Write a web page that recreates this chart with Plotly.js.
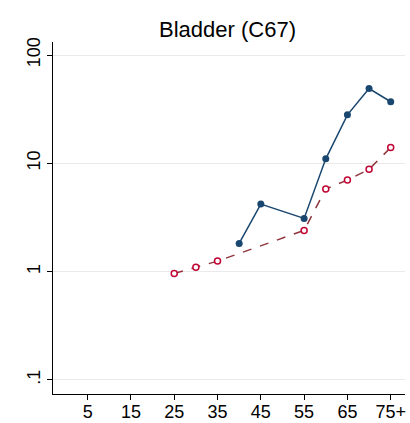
<!DOCTYPE html>
<html>
<head>
<script src="https://cdn.plot.ly/plotly-3.0.1.min.js"></script>
<style>body{margin:0}</style>
</head>
<body>
<div id="chart" style="width:410px;height:423px"></div>
<script>
// age group midpoints (75 = 75+)
const agesBlue = [40, 45, 55, 60, 65, 70, 75];
const ratesBlue = [1.82, 4.2, 3.1, 11, 28, 49, 37];
const agesRed = [25, 30, 35, 55, 60, 65, 70, 75];
const ratesRed = [0.96, 1.1, 1.25, 2.4, 5.8, 7, 8.8, 14];
const tickVals = [5, 15, 25, 35, 45, 55, 65, 75];
const tickText = ['5', '15', '25', '35', '45', '55', '65', '75+'];

const traces = [
    {
        x: agesBlue, y: ratesBlue, type: 'scatter', mode: 'lines+markers',
        line: { color: '#1a476f', width: 1.5 },
        marker: { color: '#1a476f', size: 7 }
    },
    {
        x: agesRed, y: ratesRed, type: 'scatter', mode: 'lines+markers',
        line: { color: '#90353b', width: 1.5, dash: 'dash' },
        marker: { color: '#ffffff', size: 6, line: { color: '#c10534', width: 1.5 } }
    }
];

const tickFont = { family: 'Liberation Sans, Arial, sans-serif', size: 18, color: '#000' };

const layout = {
    width: 410, height: 423,
    margin: { l: 53, r: 5, t: 42, b: 29 },
    paper_bgcolor: '#ffffff', plot_bgcolor: '#ffffff',
    font: tickFont,
    showlegend: false,
    title: { text: 'Bladder (C67)', x: 0.555, xanchor: 'center', y: 0.95, font: { size: 22 } },
    xaxis: {
        range: [-3, 78.3], tickvals: tickVals, ticktext: tickText, tickfont: tickFont,
        showgrid: false, zeroline: false, showline: true, linecolor: '#000',
        ticks: 'outside', ticklen: 5, tickcolor: '#000', automargin: false,
        ticklabelstandoff: -4
    },
    yaxis: {
        type: 'log', range: [-1.13, 2.12], tickfont: tickFont,
        tickvals: [0.1, 1, 10, 100], ticktext: ['.1', '1', '10', '100'],
        tickangle: -90, showgrid: true, gridcolor: '#eaeaea', automargin: false,
        showline: true, linecolor: '#000', ticks: 'outside', ticklen: 5, tickcolor: '#000'
    }
};

Plotly.newPlot('chart', traces, layout, { displayModeBar: false });
</script>
</body>
</html>
